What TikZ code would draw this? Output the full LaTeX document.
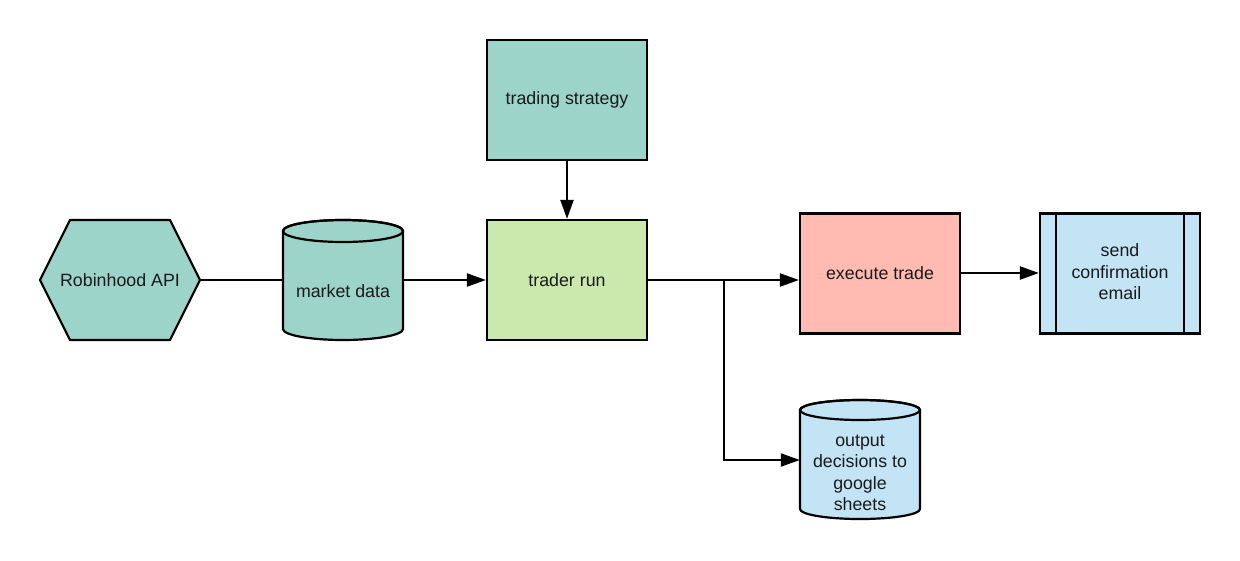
\documentclass[tikz,border=0pt]{standalone}
\usepackage{fontspec}
\setmainfont{Liberation Sans}
\usetikzlibrary{shapes.geometric,arrows.meta}
\definecolor{teal}{HTML}{9DD4C9}
\definecolor{lgreen}{HTML}{CBE8AD}
\definecolor{pink}{HTML}{FFBBB1}
\definecolor{lblue}{HTML}{C2E4F4}
\definecolor{txt}{HTML}{1A1A1A}
\tikzset{
  every node/.style={font=\fontsize{17.8}{21.5}\selectfont, text=txt},
  box/.style={draw=black, line width=2.2pt, minimum width=160pt, minimum height=120pt, inner sep=0pt, align=center},
  hole/.style={minimum width=120pt, minimum height=120pt, inner sep=0pt, align=center},
  conn/.style={line width=2.2pt, draw=black},
  arr/.style={conn, -{Triangle[length=19pt,width=13pt]}},
  cyl/.style={draw=black, line width=2.2pt, fill=#1, line join=round}
}
\begin{document}
\begin{tikzpicture}[x=1pt,y=-1pt]
\useasboundingbox (0,0) rectangle (1240,560);
% hexagon
\path[draw=black, line width=2.2pt, fill=teal, line join=miter]
  (40,280) -- (70,220) -- (170,220) -- (200,280) -- (170,340) -- (70,340) -- cycle;
\node[minimum width=160pt, minimum height=120pt, inner sep=0pt] (api) at (120,280) {Robinhood API};
\coordinate (apiR) at (200,280);
% market data cylinder
\path[cyl=teal] (283,231) -- (283,329) arc[start angle=180,end angle=360,x radius=60pt,y radius=11pt] -- (403,231) arc[start angle=0,end angle=180,x radius=60pt,y radius=11pt] -- cycle;
\draw[line width=2.2pt] (343,231) ellipse[x radius=60pt, y radius=11pt];
\node[hole] (md) at (343,280) {};
\node (mdt) at (343,291) {market data};
% trading strategy
\node[box, fill=teal] (ts) at (567,100) {trading strategy};
% trader run
\node[box, fill=lgreen] (tr) at (567,280) {trader run};
% execute trade
\node[box, fill=pink] (ex) at (880,273.5) {};
\node at (880,273) {execute trade};
% send confirmation
\node[box, fill=lblue] (sc) at (1120,273.5) {};
\draw[line width=2.2pt] (1056,214) -- (1056,333) (1184,214) -- (1184,333);
\node[align=center] at (1120,272) {send\\confirmation\\email};
% output cylinder
\path[cyl=lblue] (800,410) -- (800,509) arc[start angle=180,end angle=360,x radius=60pt,y radius=10pt] -- (920,410) arc[start angle=0,end angle=180,x radius=60pt,y radius=10pt] -- cycle;
\draw[line width=2.2pt] (860,410) ellipse[x radius=60pt, y radius=10pt];
\node[hole] (out) at (860,460) {};
\node[align=center] at (860,473) {output\\decisions to\\google\\sheets};
% connectors
\coordinate (j) at (724,280);
\draw[conn] (apiR) -- (md.west);
\draw[arr] (md.east) -- (tr.west);
\draw[arr] (ts.south) -- (tr.north);
\draw[conn] (tr.east) -- (j);
\draw[arr] (j) -- (ex.west |- j);
\draw[arr] (ex.east |- 0,273) -- (sc.west |- 0,273);
\draw[arr] (j) |- (out.west);
\end{tikzpicture}
\end{document}
